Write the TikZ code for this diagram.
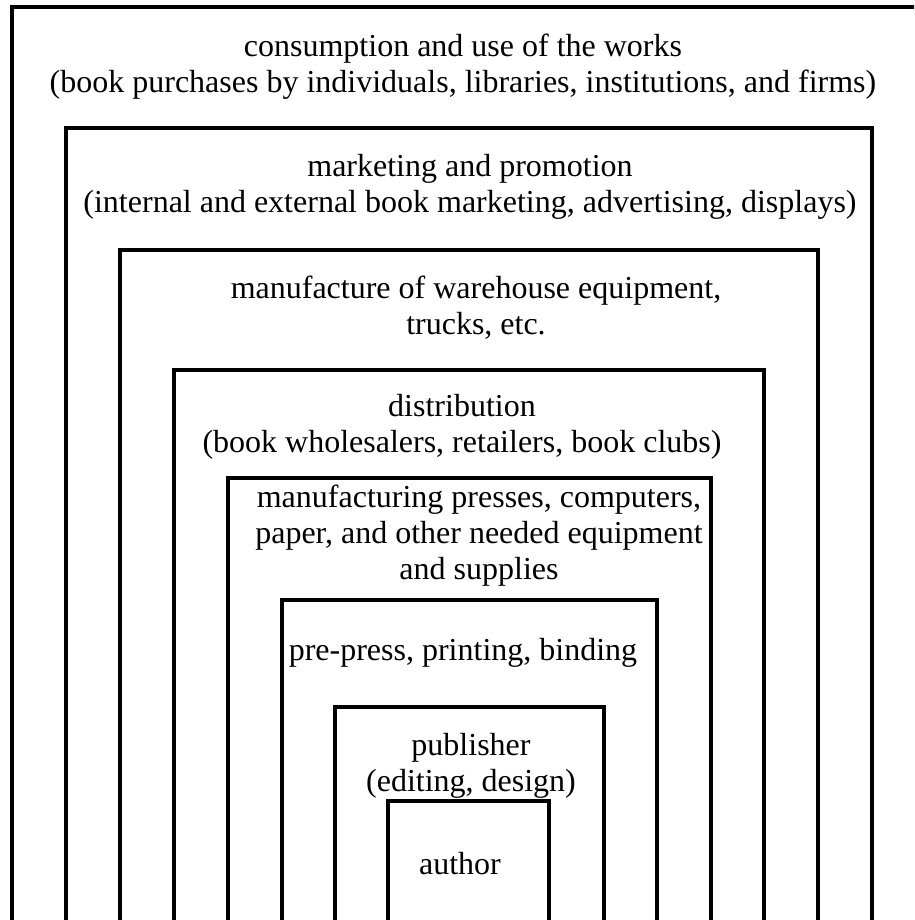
\documentclass[tikz,border=0pt]{standalone}
\usepackage{fontspec}
\setmainfont{Liberation Serif}

\tikzset{
    ring/.style={line width=2.6pt, line join=miter},
    ringtext/.style={align=center, inner sep=0pt, anchor=base,
                     font=\fontsize{24}{27}\selectfont}
}

\begin{document}
\begin{tikzpicture}[x=0.75pt, y=-0.75pt]
            \clip (0, 0) rectangle (914, 920);

            % Ringe, unten offen
            \foreach \l/\t/\r in {12/7/926, 66/128/872, 120/250/818, 174/370/764,
                                  228/478/711, 282/600/657, 335/707/604, 388/801/549}
                \draw[ring] (\l, 930) -- (\l, \t) -- (\r, \t) -- (\r, 930);

            % Beschriftungen (Basislinie der letzten Zeile)
            \node[ringtext] (consumption) at (463, 93) {consumption and use of the works\\(book purchases by individuals, libraries, institutions, and firms)};
            \node[ringtext] (marketing) at (470, 212) {marketing and promotion\\(internal and external book marketing, advertising, displays)};
            \node[ringtext] (equipment) at (476, 334) {manufacture of warehouse equipment,\\trucks, etc.};
            \node[ringtext] (distribution) at (462, 452) {distribution\\(book wholesalers, retailers, book clubs)};
            \node[ringtext] (supplies) at (479, 579) {manufacturing presses, computers,\\paper, and other needed equipment\\and supplies};
            \node[ringtext] (printing) at (463, 660) {pre-press, printing, binding};
            \node[ringtext] (publisher) at (471, 791) {publisher\\(editing, design)};
            \node[ringtext] (author) at (460, 874) {author};
\end{tikzpicture}
\end{document}
